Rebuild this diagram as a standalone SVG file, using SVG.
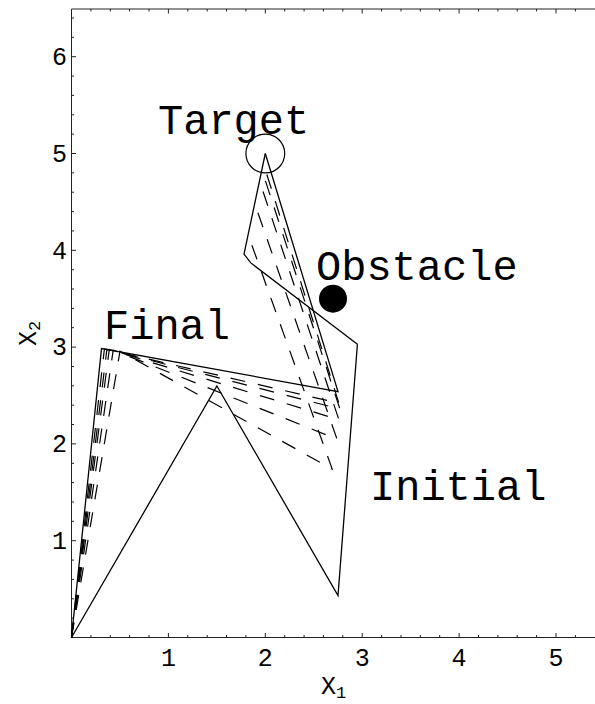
<svg xmlns="http://www.w3.org/2000/svg" width="595" height="704" viewBox="0 0 595 704">
<style>
.ax{stroke:#222;stroke-width:1;fill:none}
.tk{stroke:#222;stroke-width:1;fill:none}
.sol{stroke:#000;stroke-width:1.3;fill:none;stroke-linejoin:miter}
.dsh{stroke:#000;stroke-width:1.2;fill:none;stroke-dasharray:15 13}
.num{font-family:"Liberation Mono","DejaVu Sans Mono",monospace;font-size:25px;fill:#000}
.lbl{font-family:"Liberation Mono","DejaVu Sans Mono",monospace;font-size:42px;fill:#000}
</style>
<rect width="595" height="704" fill="#fff"/>
<g id="frame">
<path class="ax" d="M71.5 9V637.5H595M71.5 9H595"/>
<path class="tk" d="M90.9 637.5v-2.5M110.3 637.5v-2.5M129.6 637.5v-2.5M149 637.5v-2.5M187.8 637.5v-2.5M207.2 637.5v-2.5M226.5 637.5v-2.5M245.9 637.5v-2.5M284.7 637.5v-2.5M304.1 637.5v-2.5M323.4 637.5v-2.5M342.8 637.5v-2.5M381.6 637.5v-2.5M401 637.5v-2.5M420.3 637.5v-2.5M439.7 637.5v-2.5M478.5 637.5v-2.5M497.9 637.5v-2.5M517.2 637.5v-2.5M536.6 637.5v-2.5M575.4 637.5v-2.5M168.4 637.5v-4.5M265.3 637.5v-4.5M362.2 637.5v-4.5M459.1 637.5v-4.5M556 637.5v-4.5"/>
<path class="tk" d="M90.9 9v2.5M110.3 9v2.5M129.6 9v2.5M149 9v2.5M187.8 9v2.5M207.2 9v2.5M226.5 9v2.5M245.9 9v2.5M284.7 9v2.5M304.1 9v2.5M323.4 9v2.5M342.8 9v2.5M381.6 9v2.5M401 9v2.5M420.3 9v2.5M439.7 9v2.5M478.5 9v2.5M497.9 9v2.5M517.2 9v2.5M536.6 9v2.5M575.4 9v2.5M168.4 9v4.5M265.3 9v4.5M362.2 9v4.5M459.1 9v4.5M556 9v4.5"/>
<path class="tk" d="M71.5 618.1h2.5M71.5 598.8h2.5M71.5 579.4h2.5M71.5 560.1h2.5M71.5 521.3h2.5M71.5 502h2.5M71.5 482.6h2.5M71.5 463.3h2.5M71.5 424.5h2.5M71.5 405.2h2.5M71.5 385.8h2.5M71.5 366.5h2.5M71.5 327.7h2.5M71.5 308.4h2.5M71.5 289h2.5M71.5 269.7h2.5M71.5 230.9h2.5M71.5 211.6h2.5M71.5 192.2h2.5M71.5 172.9h2.5M71.5 134.1h2.5M71.5 114.8h2.5M71.5 95.4h2.5M71.5 76.1h2.5M71.5 37.3h2.5M71.5 18h2.5M71.5 540.7h4.5M71.5 443.9h4.5M71.5 347.1h4.5M71.5 250.3h4.5M71.5 153.5h4.5M71.5 56.7h4.5"/>
<g class="num" text-anchor="middle">
<text x="168.4" y="666">1</text>
<text x="265.3" y="666">2</text>
<text x="362.2" y="666">3</text>
<text x="459.1" y="666">4</text>
<text x="556" y="666">5</text>
</g>
<g class="num" text-anchor="end">
<text x="67" y="549">1</text>
<text x="67" y="452">2</text>
<text x="67" y="355">3</text>
<text x="67" y="258.5">4</text>
<text x="67" y="161.5">5</text>
<text x="67" y="65">6</text>
</g>
<text class="num" x="321" y="694">X<tspan font-size="17" dy="4">1</tspan></text>
<text class="num" transform="translate(36,346) rotate(-90)">X<tspan font-size="17" dy="4">2</tspan></text>
</g>
<g id="connectors">
<g id="intermediate">
<path class="dsh" d="M71.5 637.5L104.4 348.9L338.9 403.2L263.3 163.2"/>
<path class="dsh" d="M71.5 637.5L106.9 349.2L339.9 409L261.9 170"/>
<path class="dsh" d="M71.5 637.5L109.3 349.5L338.9 419.7L259.5 180.9"/>
<path class="dsh" d="M71.5 637.5L113.2 350.1L337 439.1L254.5 203"/>
<path class="dsh" d="M71.5 637.5L120 351.2L332.2 469.1L247.5 233"/>
</g>
<path id="initial-arm" class="sol" d="M71.5 637.5L216.9 386L338 595.6L357.4 344.2"/>
<path id="end-path" class="sol" d="M357.4 344.2L250.8 262.9L244 254.2L265.3 153.5"/>
<path id="final-arm" class="sol" d="M71.5 637.5L101.5 348.6L338 391.6L265.3 153.5"/>
</g>
<g id="target">
<circle cx="265.3" cy="153.5" r="19.4" fill="none" stroke="#000" stroke-width="1.2"/>
<text class="lbl" x="158" y="134">Target</text>
</g>
<g id="obstacle">
<circle cx="333" cy="298.7" r="14" fill="#000"/>
<text class="lbl" x="316" y="280">Obstacle</text>
</g>
<g id="final">
<text class="lbl" x="104" y="339">Final</text>
</g>
<g id="initial">
<text class="lbl" x="370" y="500">Initial</text>
</g>
</svg>
